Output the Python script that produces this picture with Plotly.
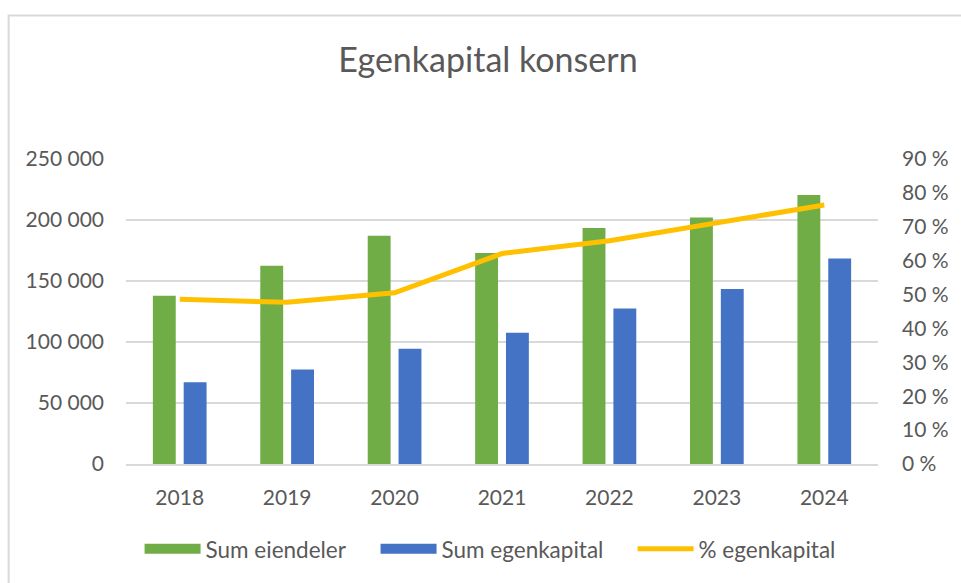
import plotly.graph_objects as go

years = ["2018", "2019", "2020", "2021", "2022", "2023", "2024"]
sum_eiendeler = [138000, 162500, 187000, 173000, 193500, 202000, 220500]
sum_egenkapital = [67000, 77500, 94500, 107500, 127500, 143500, 168500]
pct_egenkapital = [0.486, 0.477, 0.505, 0.621, 0.659, 0.711, 0.764]

y_ticks = [0, 50000, 100000, 150000, 200000, 250000]
y_ticktext = ["0", "50 000", "100 000", "150 000", "200 000", "250 000"]
y2_ticks = [i / 10 for i in range(10)]
y2_ticktext = [f"{i*10} %" for i in range(10)]

GREEN = "#70AD47"
BLUE = "#4472C4"
YELLOW = "#FFC000"
TXT = "#595959"
GRID = "#D9D9D9"
FONT = "Lato, Open Sans, sans-serif"

fig = go.Figure()
fig.add_trace(go.Bar(x=years, y=sum_eiendeler, name="Sum eiendeler",
                     marker=dict(color=GREEN, line=dict(width=0)), showlegend=False))
fig.add_trace(go.Bar(x=years, y=sum_egenkapital, name="Sum egenkapital",
                     marker=dict(color=BLUE, line=dict(width=0)), showlegend=False))
fig.add_trace(go.Scatter(x=years, y=pct_egenkapital, name="% egenkapital", yaxis="y2",
                         mode="lines", line=dict(color=YELLOW, width=5), showlegend=False))
# legend entries
fig.add_trace(go.Scatter(x=[None], y=[None], name="Sum eiendeler", mode="lines",
                         line=dict(color=GREEN, width=12), legendwidth=165))
fig.add_trace(go.Scatter(x=[None], y=[None], name="Sum egenkapital", mode="lines",
                         line=dict(color=BLUE, width=12), legendwidth=186))
fig.add_trace(go.Scatter(x=[None], y=[None], name="% egenkapital", mode="lines",
                         line=dict(color=YELLOW, width=5)))

fig.update_layout(
    width=961, height=583,
    margin=dict(l=126, r=79, t=159, b=116),
    paper_bgcolor="white", plot_bgcolor="white",
    font=dict(family=FONT, color=TXT, size=21),
    title=dict(text="Egenkapital konsern", x=488/961, xref="container", xanchor="center",
               y=1-60/583, yref="container", yanchor="middle",
               font=dict(family=FONT, size=34, color=TXT)),
    barmode="group", bargap=0.426, bargroupgap=0.258,
    xaxis=dict(type="category", showgrid=False, showline=True, linecolor=GRID, linewidth=2,
               ticks="", ticklabelstandoff=14, tickfont=dict(size=21, color=TXT)),
    yaxis=dict(range=[0, 250000], tickvals=y_ticks, ticktext=y_ticktext,
               showgrid=True, gridcolor=GRID, gridwidth=2, zeroline=False,
               showline=False, ticks="", ticklabelstandoff=21,
               tickfont=dict(size=21, color=TXT)),
    yaxis2=dict(range=[0, 0.9], overlaying="y", side="right", tickvals=y2_ticks,
                ticktext=y2_ticktext, showgrid=False, zeroline=False, showline=False,
                ticks="", ticklabelstandoff=23, tickfont=dict(size=21, color=TXT)),
    legend=dict(orientation="h", x=(492-126)/756, xanchor="center", y=(467-553)/308,
                yanchor="middle", font=dict(size=22.5, color=TXT), bgcolor="rgba(0,0,0,0)",
                itemwidth=56),
    shapes=[dict(type="rect", xref="paper", yref="paper",
                 x0=(8-126)/756, x1=(975-126)/756, y0=(467-600)/308, y1=(467-14)/308,
                 line=dict(color=GRID, width=2), fillcolor="rgba(0,0,0,0)", layer="below")],
)

fig.write_html("out.html", config={"displayModeBar": False},
               post_script="document.body.style.margin='0';")
